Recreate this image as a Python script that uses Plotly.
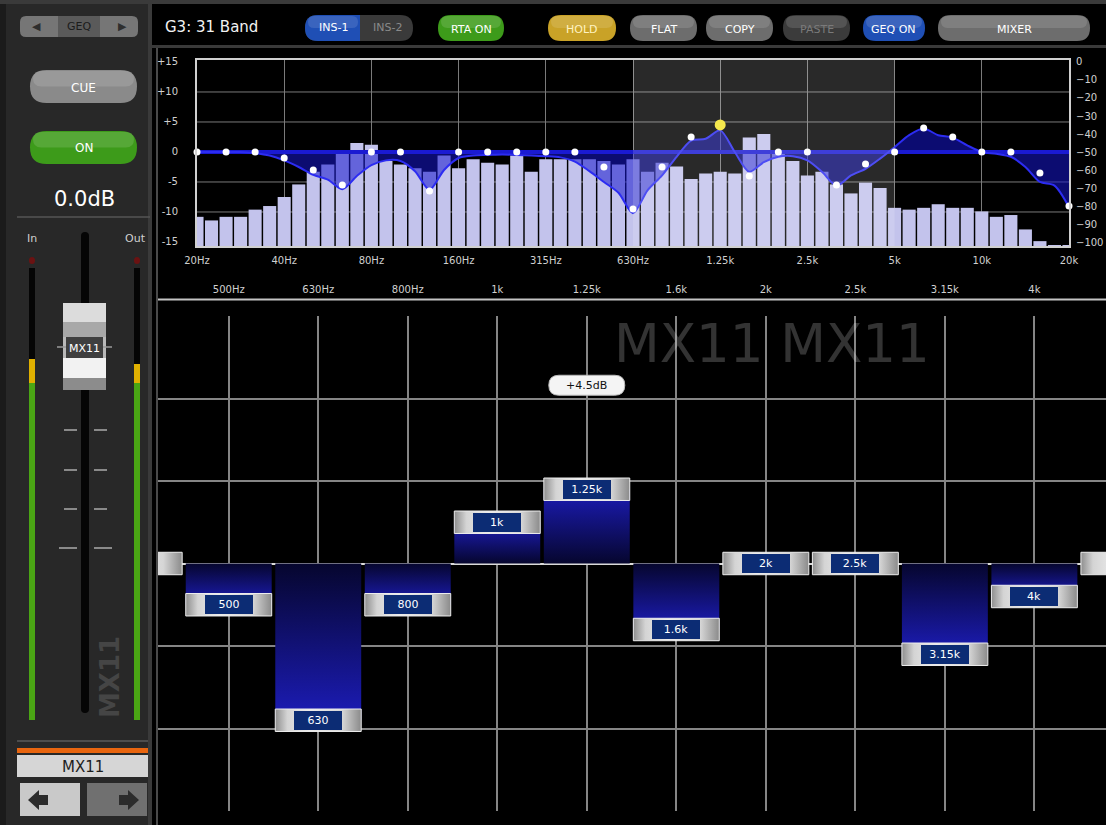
import plotly.graph_objects as go

W, H = 1106, 825

# ---------------- data ----------------
rta_freqs = ["20", "22.4", "25", "28", "31.5", "35.5", "40", "45", "50", "56", "63", "71",
             "80", "90", "100", "112", "125", "140", "160", "180", "200", "224", "250", "280",
             "315", "355", "400", "450", "500", "560", "630", "710", "800", "900", "1000", "1120",
             "1250", "1400", "1600", "1800", "2000", "2240", "2500", "2800", "3150", "3550", "4000",
             "4500", "5000", "5600", "6300", "7100", "8000", "9000", "10000", "11200", "12500",
             "14000", "16000", "18000", "20000"]
rta_levels = [-86, -88, -86, -86, -82, -80, -75, -68, -61, -57,
              -51, -45, -46, -55, -57, -59, -61, -52, -59, -54,
              -56, -57, -52, -61, -54, -54, -54, -54, -55, -57,
              -54, -61, -56, -58, -65, -62, -61, -62, -42, -40,
              -49, -55, -63, -61, -68, -73, -67, -70, -81, -82,
              -81, -79, -81, -81, -83, -86, -85, -93, -99.5, -102, -102]
eq_response = [0, 0, 0, 0, -0.2, -0.6, -1.4, -2.5, -3.8, -4.6,
               -6.2, -4.0, -2.2, -1.4, -1.5, -3.2, -6.3, -3.0, -1.0, -0.6,
               -0.5, -0.4, -0.5, -0.6, -0.7, -0.9, -1.6, -3.2, -5.0, -6.8,
               -10.2, -6.4, -3.9, -0.8, 1.9, 2.2, 3.6, 0.0, -3.3, -1.7,
               -0.8, -0.7, -1.4, -3.3, -5.6, -3.9, -2.8, -1.1, 0.8, 2.8,
               3.9, 2.8, 2.4, 1.1, 0.0, -0.3, -0.8, -2.5, -5.0, -5.6, -9.2]

band_freqs = ["20", "25", "31.5", "40", "50", "63", "80", "100", "125", "160", "200", "250",
              "315", "400", "500", "630", "800", "1000", "1250", "1600", "2000", "2500", "3150",
              "4000", "5000", "6300", "8000", "10000", "12500", "16000", "20000"]
band_labels = ["20", "25", "31.5", "40", "50", "63", "80", "100", "125", "160", "200", "250",
               "315", "400", "500", "630", "800", "1k", "1.25k", "1.6k", "2k", "2.5k", "3.15k",
               "4k", "5k", "6.3k", "8k", "10k", "12.5k", "16k", "20k"]
band_gains = [0, 0, 0, -1.0, -3.0, -5.5, 0, 0, -6.5, 0, 0, 0, 0, 0, -2.5, -9.5, -2.5,
              2.5, 4.5, -4.0, 0, 0, -5.5, -2.0, 0, 4.0, 2.5, 0, 0, -3.5, -9.0]
selected_band = "1250"

top_tick_freqs = ["20", "40", "80", "160", "315", "630", "1250", "2500", "5000", "10000", "20000"]
top_tick_text = ["20Hz", "40Hz", "80Hz", "160Hz", "315Hz", "630Hz", "1.25k", "2.5k", "5k", "10k", "20k"]
eq_tick_vals = [15, 10, 5, 0, -5, -10, -15]
eq_tick_text = ["+15", "+10", "+5", "0", "-5", "-10", "-15"]
eq_grid_vals = [10, 5, 0, -5, -10]
rta_tick_vals = [0, -10, -20, -30, -40, -50, -60, -70, -80, -90, -100]
highlight_band_range = ["630", "5000"]
lower_band_view = [13.21, 23.8]
lower_db_ticks = [-15, -10, -5, 0, 5, 10, 15]

channel_name = "MX11"
channel_level = "0.0dB"
title_text = "G3: 31 Band"

# ---------------- style constants ----------------
EQ_RANGE = [-15.67, 15.33]
RTA_RANGE = [-102.2, 1.1]
FONT = "DejaVu Sans"
HALF_W = 0.48
HANDLE_H = 1.36


def X(px):
    return px / W


def Y(py):
    return 1 - py / H


shapes = []
annotations = []


def rect(x0, y0, x1, y1, fill, layer="below", line=None):
    d = dict(type="rect", xref="paper", yref="paper", x0=X(x0), x1=X(x1), y0=Y(y1), y1=Y(y0),
             fillcolor=fill, layer=layer, line=dict(width=0))
    if line:
        d["line"] = line
    shapes.append(d)


def rrect(x0, y0, x1, y1, r, fill, layer="below", line=None):
    rx, ry = r / W, r / H
    a, b = X(x0), X(x1)
    t, u = Y(y0), Y(y1)
    p = (f"M {a+rx},{t} L {b-rx},{t} Q {b},{t} {b},{t-ry} L {b},{u+ry} Q {b},{u} {b-rx},{u} "
         f"L {a+rx},{u} Q {a},{u} {a},{u+ry} L {a},{t-ry} Q {a},{t} {a+rx},{t} Z")
    d = dict(type="path", xref="paper", yref="paper", path=p, fillcolor=fill, layer=layer,
             line=dict(width=0))
    if line:
        d["line"] = line
    shapes.append(d)


def poly(points, fill):
    p = "M " + " L ".join(f"{X(x)},{Y(y)}" for x, y in points) + " Z"
    shapes.append(dict(type="path", xref="paper", yref="paper", path=p, fillcolor=fill,
                       line=dict(width=0), layer="below"))


def hline(x0, x1, y, color, w):
    shapes.append(dict(type="line", xref="paper", yref="paper", x0=X(x0), x1=X(x1), y0=Y(y), y1=Y(y),
                       line=dict(color=color, width=w), layer="below"))


def text(x, y, s, size, color, xanchor="center", yanchor="middle", angle=0, family=FONT, bold=False):
    if bold:
        s = f"<b>{s}</b>"
    annotations.append(dict(xref="paper", yref="paper", x=X(x), y=Y(y), text=s, showarrow=False,
                            xanchor=xanchor, yanchor=yanchor, textangle=angle,
                            font=dict(family=family, size=size, color=color)))


def button(x0, y0, x1, y1, label, fill, tcolor, size=12):
    rrect(x0, y0, x1, y1, (y1 - y0) / 2, fill)
    rrect(x0 + 3, y0 + 1, x1 - 3, (y0 + y1) / 2, (y1 - y0) / 4, "rgba(255,255,255,0.13)")
    text((x0 + x1) / 2, (y0 + y1) / 2 + 1, label, size, tcolor)


# ---------------- frame / UI ----------------
rect(0, 0, 150, H, "#282828")
rect(0, 0, 6, H, "#1b1b1b")
rect(0, 0, W, 4, "#3a3a3a")
rect(148, 0, 152, H, "#3a3a3a")
rect(152, 45, W, 48, "#3a3a3a")
rect(156, 48, 158, H, "#4a4a4a")
hline(158, W, 299.5, "#c4c4c4", 2)

# GEQ selector
rrect(20, 16, 138, 37, 6, "#767676")
rect(58, 16, 100, 37, "#5a5a5a")
text(36, 27, "◀", 11, "#2e2e2e")
text(122, 27, "▶", 11, "#2e2e2e")
text(79, 27, "GEQ", 11, "#1c1c1c")

# toolbar
text(163, 27, title_text, 15, "#f2f2f2", xanchor="left")
rrect(305, 15, 413, 41, 13, "#3a3a3a")
rrect(305, 15, 374, 41, 13, "#1f4fb5")
rect(360, 15, 376, 41, "#3a3a3a")
rrect(308, 16, 358, 28, 6, "rgba(255,255,255,0.12)")
text(333, 28, "INS-1", 11, "#ffffff")
text(387, 28, "INS-2", 11, "#8a8a8a")
button(438, 15, 504, 41, "RTA ON", "#3d9b1a", "#ffffff", 11)
button(548, 15, 616, 41, "HOLD", "#c9a227", "#fff3c0", 11)
button(630, 15, 697, 41, "FLAT", "#6d6d6d", "#ffffff", 11)
button(706, 15, 773, 41, "COPY", "#6d6d6d", "#ffffff", 11)
button(783, 15, 850, 41, "PASTE", "#3b3b3b", "#7a7a7a", 11)
button(863, 15, 925, 41, "GEQ ON", "#1f4fb5", "#ffffff", 11)
button(938, 15, 1090, 41, "MIXER", "#6d6d6d", "#ffffff", 11)

# left channel strip
button(30, 70, 137, 103, "CUE", "#8a8a8a", "#ffffff", 12)
button(30, 131, 137, 164, "ON", "#3d9b1a", "#ffffff", 12)
text(84, 199, channel_level, 21, "#ffffff")
hline(17, 150, 217, "#555555", 1.5)
text(25, 238, "In", 11, "#cfcfcf", xanchor="left")
text(148, 238, "Out", 11, "#cfcfcf", xanchor="right")
for mx in (29, 134):
    shapes.append(dict(type="circle", xref="paper", yref="paper", x0=X(mx), x1=X(mx + 6),
                       y0=Y(264), y1=Y(257), fillcolor="#6b1212", line=dict(width=0), layer="below"))
    rect(mx, 268, mx + 6, 720, "#050505")
rect(29, 359, 35, 383, "#e0b000")
rect(29, 383, 35, 720, "#4aa514")
rect(134, 364, 140, 383, "#e0b000")
rect(134, 383, 140, 720, "#4aa514")
rrect(81, 232, 89, 713, 4, "#050505")
for ty, l in ((430, 13), (470, 13), (509, 13), (548, 18)):
    hline(77 - l, 77, ty, "#8a8a8a", 2)
    hline(94, 94 + l, ty, "#8a8a8a", 2)
text(110, 677, channel_name, 26, "#454545", angle=-90, bold=True)
# fader knob
rrect(63, 303, 106, 390, 4, "#b9b9b9")
rect(63, 303, 106, 322, "#dcdcdc")
rect(63, 322, 106, 337, "#a8a8a8")
hline(57, 66, 347, "#9a9a9a", 1.5)
hline(103, 112, 347, "#9a9a9a", 1.5)
rect(66, 337, 103, 358, "#3f3f3f")
rect(63, 358, 106, 378, "#f2f2f2")
rect(63, 378, 106, 390, "#8c8c8c")
text(84.5, 348, channel_name, 11, "#ffffff")
# bottom name + arrows
hline(17, 148, 741, "#5a5a5a", 1.5)
rect(17, 748, 148, 753, "#e8650f")
rect(17, 755, 148, 777, "#d6d6d6")
text(83, 767, channel_name, 15, "#1e1e1e")
rect(20, 783, 80, 816, "#c9c9c9")
rect(87, 783, 147, 816, "#707070")
poly([(28, 800), (39, 790), (39, 795), (48, 795), (48, 805), (39, 805), (39, 810)], "#2c2c2c")
poly([(139, 800), (128, 790), (128, 795), (119, 795), (119, 805), (128, 805), (128, 810)], "#2c2c2c")

# ---------------- top chart (RTA + EQ curve) ----------------
fig = go.Figure()
fig.add_trace(go.Bar(x=rta_freqs, y=[v - RTA_RANGE[0] for v in rta_levels], base=RTA_RANGE[0],
                     marker=dict(color="#c3c3ec", line=dict(width=0)), xaxis="x", yaxis="y",
                     hoverinfo="skip", showlegend=False))
fig.add_trace(go.Scatter(x=rta_freqs, y=eq_response, mode="lines", xaxis="x", yaxis="y2",
                         line=dict(width=0, shape="spline", smoothing=0.8), fill="tozeroy",
                         fillcolor="rgba(22,22,205,0.55)", hoverinfo="skip", showlegend=False))
fig.add_trace(go.Scatter(x=[rta_freqs[0], rta_freqs[-1]], y=[0, 0], mode="lines", xaxis="x", yaxis="y2",
                         line=dict(color="#1a1ad2", width=4), hoverinfo="skip", showlegend=False))
fig.add_trace(go.Scatter(x=rta_freqs, y=eq_response, mode="lines", xaxis="x", yaxis="y2",
                         line=dict(color="#2c2cf2", width=2, shape="spline", smoothing=0.8),
                         hoverinfo="skip", showlegend=False))
fig.add_trace(go.Scatter(x=band_freqs, y=band_gains, mode="markers", xaxis="x", yaxis="y2",
                         marker=dict(color="#ffffff", size=7), cliponaxis=False,
                         hoverinfo="skip", showlegend=False))
sel = band_freqs.index(selected_band)
fig.add_trace(go.Scatter(x=[band_freqs[sel]], y=[band_gains[sel]], mode="markers", xaxis="x", yaxis="y2",
                         marker=dict(color="#f4e42c", size=11), cliponaxis=False,
                         hoverinfo="skip", showlegend=False))

for v in eq_grid_vals:
    shapes.append(dict(type="line", xref="x domain", yref="y2", x0=0, x1=1, y0=v, y1=v,
                       line=dict(color="#7a7a7a", width=1), layer="below"))
shapes.append(dict(type="rect", xref="x", yref="y domain",
                   x0=rta_freqs.index(highlight_band_range[0]), x1=rta_freqs.index(highlight_band_range[1]),
                   y0=0, y1=1, fillcolor="rgba(255,255,255,0.16)", line=dict(width=0), layer="above"))

# ---------------- lower chart (band faders) ----------------
for i, g in enumerate(band_gains):
    if g != 0:
        if g > 0:
            fg = dict(type="vertical", colorscale=[[0, "#06062e"], [1, "#1c1cb8"]], start=0, stop=g)
        else:
            fg = dict(type="vertical", colorscale=[[0, "#1c1cb8"], [1, "#06062e"]], start=g, stop=0)
        fig.add_trace(go.Scatter(x=[i - HALF_W, i + HALF_W, i + HALF_W, i - HALF_W, i - HALF_W],
                                 y=[0, 0, g, g, 0], mode="lines", fill="toself", fillgradient=fg,
                                 line=dict(width=0), xaxis="x3", yaxis="y3",
                                 hoverinfo="skip", showlegend=False))
for i, g in enumerate(band_gains):
    lo, hi = g - HANDLE_H / 2, g + HANDLE_H / 2
    fig.add_trace(go.Scatter(x=[i - HALF_W, i + HALF_W, i + HALF_W, i - HALF_W, i - HALF_W],
                             y=[lo, lo, hi, hi, lo], mode="lines", fill="toself",
                             fillgradient=dict(type="horizontal", start=i - HALF_W, stop=i + HALF_W,
                                               colorscale=[[0, "#8e8e8e"], [0.14, "#d4d4d4"],
                                                           [0.4, "#ececec"], [0.78, "#d6d6d6"],
                                                           [1, "#8a8a8a"]]),
                             line=dict(width=1, color="#eeeeee"), xaxis="x3", yaxis="y3",
                             hoverinfo="skip", showlegend=False))
    annotations.append(dict(xref="x3", yref="y3", x=i, y=g, text=band_labels[i], showarrow=False,
                            xanchor="center", yanchor="middle",
                            font=dict(family=FONT, size=11, color="#ffffff"), bgcolor="#0c2c74",
                            bordercolor="#0c2c74", borderpad=1, width=44, height=15))

selg = band_gains[sel]
shapes.append(dict(type="path", xref="x3", yref="y3", xsizemode="pixel", ysizemode="pixel",
                   xanchor=sel, yanchor=selg,
                   path="M -28,114 L 28,114 Q 38,114 38,104 Q 38,94 28,94 L -28,94 Q -38,94 -38,104 "
                        "Q -38,114 -28,114 Z",
                   fillcolor="#f4f4f4", line=dict(color="#bbbbbb", width=1), layer="above"))
annotations.append(dict(xref="x3", yref="y3", x=sel, y=selg, yshift=104, text=f"{selg:+.1f}dB",
                        xanchor="center", yanchor="middle",
                        showarrow=False, font=dict(family=FONT, size=11, color="#111111")))
annotations.append(dict(xref="paper", yref="paper", x=X(772), y=Y(343), text=f"{channel_name} {channel_name}",
                        xanchor="center", yanchor="middle",
                        showarrow=False, font=dict(family=FONT, size=53, color="rgba(255,255,255,0.2)")))

tickfont = dict(family=FONT, size=10, color="#d0d0d0")
fig.update_layout(
    width=W, height=H, margin=dict(l=0, r=0, t=0, b=0, pad=0, autoexpand=False),
    paper_bgcolor="#000000", plot_bgcolor="rgba(0,0,0,0)",
    bargap=0.1, showlegend=False,
    xaxis=dict(domain=[X(197), X(1069)], anchor="y", type="category", categoryorder="array",
               categoryarray=rta_freqs, range=[0, len(rta_freqs) - 1], automargin=False,
               tickmode="array", tickvals=top_tick_freqs, ticktext=top_tick_text,
               showgrid=True, gridcolor="#7a7a7a", gridwidth=1, tickfont=tickfont,
               ticklabelstandoff=4, showline=True, mirror=True, linecolor="#d0d0d0", linewidth=2,
               zeroline=False, fixedrange=True),
    yaxis=dict(domain=[Y(246), Y(60)], anchor="x", side="right", range=RTA_RANGE, automargin=False,
               tickmode="array", tickvals=rta_tick_vals, showgrid=False, zeroline=False,
               tickfont=tickfont, ticklabelstandoff=3, showline=True, mirror=True,
               linecolor="#d0d0d0", linewidth=2, fixedrange=True),
    yaxis2=dict(overlaying="y", anchor="x", side="left", range=EQ_RANGE, automargin=False,
                tickmode="array", tickvals=eq_tick_vals, ticktext=eq_tick_text, showgrid=False,
                zeroline=False, tickfont=tickfont, ticklabelstandoff=18, fixedrange=True),
    xaxis3=dict(domain=[X(158), 1.0], anchor="y3", side="top", range=lower_band_view, automargin=False,
                tickmode="array", tickvals=list(range(len(band_freqs))),
                ticktext=[l if "k" in l else l + "Hz" for l in band_labels],
                showgrid=True, gridcolor="#858585", gridwidth=1.5, zeroline=False,
                tickfont=tickfont, ticklabelstandoff=20, fixedrange=True),
    yaxis3=dict(domain=[Y(811), Y(316)], anchor="x3", range=[-15, 15], tickmode="array", automargin=False,
                tickvals=lower_db_ticks, showticklabels=False, showgrid=True, gridcolor="#858585",
                gridwidth=1.5, zeroline=True, zerolinecolor="#dadada", zerolinewidth=2,
                fixedrange=True),
    shapes=shapes, annotations=annotations,
)

fig.write_html("out.html", include_plotlyjs=True, full_html=True, config={"displayModeBar": False},
               post_script="document.body.style.margin='0';document.body.style.overflow='hidden';")
